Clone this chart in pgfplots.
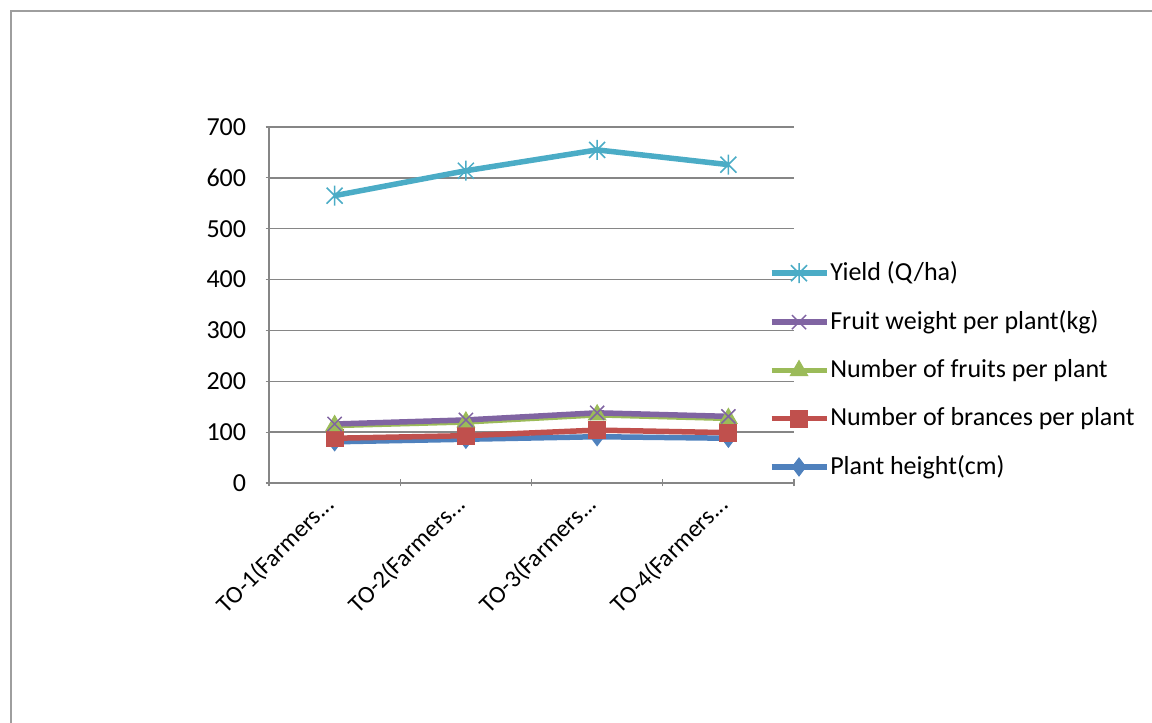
\documentclass[border=0pt]{standalone}
\usepackage{fontspec}
\setmainfont{Carlito}
\usepackage{pgfplots}
\pgfplotsset{compat=1.18}

\definecolor{cBlue}{HTML}{4F81BD}
\definecolor{cRed}{HTML}{C0504D}
\definecolor{cGreen}{HTML}{9BBB59}
\definecolor{cPurple}{HTML}{8064A2}
\definecolor{cCyan}{HTML}{4BACC6}
\definecolor{cGrid}{HTML}{868686}

\newcommand{\tdots}{...}

% Excel style star: vertical bar plus an x
\pgfdeclareplotmark{xstar}{%
  \pgfpathmoveto{\pgfqpoint{0pt}{\pgfplotmarksize}}%
  \pgfpathlineto{\pgfqpoint{0pt}{-\pgfplotmarksize}}%
  \pgfpathmoveto{\pgfqpoint{-0.8\pgfplotmarksize}{0.8\pgfplotmarksize}}%
  \pgfpathlineto{\pgfqpoint{0.8\pgfplotmarksize}{-0.8\pgfplotmarksize}}%
  \pgfpathmoveto{\pgfqpoint{-0.8\pgfplotmarksize}{-0.8\pgfplotmarksize}}%
  \pgfpathlineto{\pgfqpoint{0.8\pgfplotmarksize}{0.8\pgfplotmarksize}}%
  \pgfusepathqstroke}

\begin{document}
\fontsize{26}{31}\selectfont
\begin{tikzpicture}[x=1pt,y=1pt]
\clip (0,0) rectangle (1152,723);
\draw[cGrid!80, line width=1.2pt] (11,-20) rectangle (1180,712);
\begin{axis}[
    at={(269pt,240pt)}, anchor=south west,
    scale only axis, width=525pt, height=356pt,
    font=\fontsize{26}{31}\selectfont,
    /pgf/number format/assume math mode=true,
    xmin=-0.5, xmax=3.5, ymin=0, ymax=700,
    ytick={0,100,...,700},
    xtick={0,1,2,3},
    xticklabels={TO-1(Farmers\tdots, TO-2(Farmers\tdots, TO-3(Farmers\tdots, TO-4(Farmers\tdots},
    xticklabel style={xshift=4pt, yshift=-6pt, rotate=45, anchor=east,
        font=\fontsize{24.5}{29}\selectfont},
    yticklabel style={xshift=-8pt},
    minor xtick={-0.5,0.5,1.5,2.5,3.5},
    major x tick style={draw=none},
    tick align=outside,
    major tick length=7pt, minor tick length=7pt,
    tick style={cGrid, line width=1.2pt},
    axis x line=bottom, axis y line=left,
    axis line style={-, cGrid, line width=1.5pt},
    ymajorgrids, grid style={cGrid, line width=1.5pt},
    every tick label/.append style={black},
    line width=5.5pt,
    reverse legend,
    legend cell align=left,
    legend style={at={(0.9467,0.632)}, anchor=north west, draw=none, fill=none,
        row sep=24pt, inner sep=0pt, nodes={inner sep=1pt}},
    legend image code/.code={%
        \draw[mark repeat=2, mark phase=2] plot coordinates {(0pt,0pt) (27.5pt,0pt) (55pt,0pt)};},
]
\addplot[cBlue, mark=diamond*, mark size=9pt, mark options={solid, fill=cBlue, line width=1pt}]
    coordinates {(0,81) (1,86) (2,91) (3,88)};
\addlegendentry{Plant height(cm)}
\addplot[cRed, mark=square*, mark size=8.5pt, mark options={solid, fill=cRed, line width=1pt}]
    coordinates {(0,88) (1,93) (2,104) (3,99)};
\addlegendentry{Number of brances per plant}
\addplot[cGreen, mark=triangle*, mark size=10pt, mark options={solid, fill=cGreen, line width=1pt}]
    coordinates {(0,113) (1,120) (2,134) (3,127)};
\addlegendentry{Number of fruits per plant}
\addplot[cPurple, mark=x, mark size=10pt, mark options={solid, line width=1.5pt}]
    coordinates {(0,116) (1,124) (2,138) (3,131)};
\addlegendentry{Fruit weight per plant(kg)}
\addplot[cCyan, mark=xstar, mark size=10pt, mark options={solid, line width=1.5pt}]
    coordinates {(0,565) (1,614) (2,655) (3,626)};
\addlegendentry{Yield (Q/ha)}
\end{axis}
\end{tikzpicture}
\end{document}
